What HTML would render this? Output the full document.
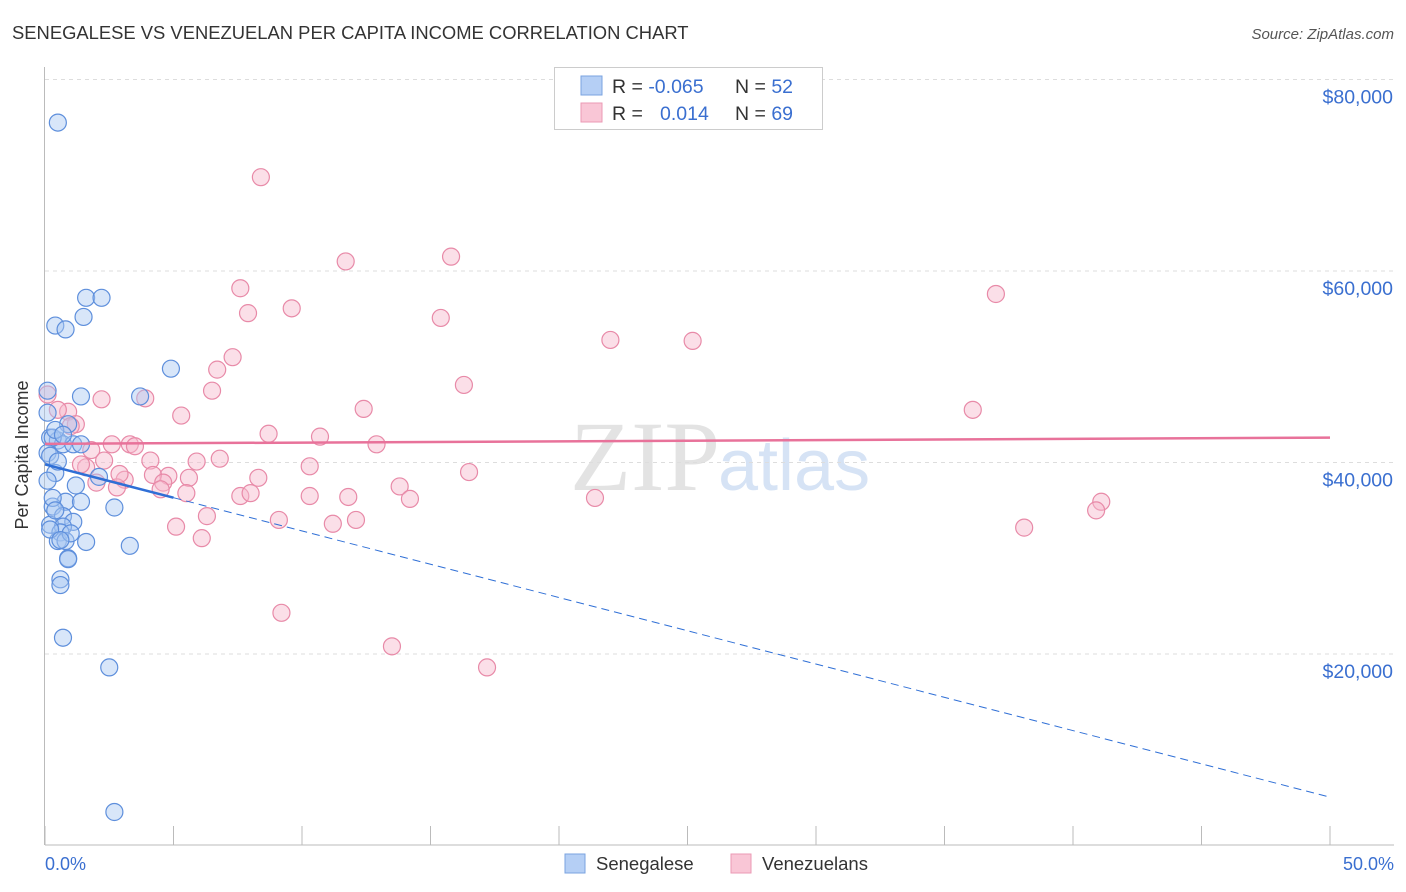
<!DOCTYPE html>
<html><head><meta charset="utf-8"><style>
body{margin:0;background:#fff;font-family:"Liberation Sans",sans-serif}
#wrap{position:relative;width:1406px;height:892px;overflow:hidden}
</style></head><body><div id="wrap">
<svg id="svg" width="1406" height="892" xmlns="http://www.w3.org/2000/svg" font-family="Liberation Sans, sans-serif">
<text x="12" y="39" font-size="18.4" fill="#333">SENEGALESE VS VENEZUELAN PER CAPITA INCOME CORRELATION CHART</text>
<text x="1394" y="39" font-size="15" fill="#555" font-style="italic" text-anchor="end">Source: ZipAtlas.com</text>
<text x="720" y="490" font-size="100" fill="#e3e3e3" font-family="Liberation Serif, serif" text-anchor="end">ZIP</text>
<text x="718" y="490" font-size="72" fill="#d6e3f5" text-anchor="start">atlas</text>
<g id="grid"></g><g id="axes"></g><g id="pts"></g><g id="trend"></g>
<text x="28" y="455" font-size="18" fill="#333" transform="rotate(-90 28 455)" text-anchor="middle">Per Capita Income</text>
<text x="45" y="870" font-size="18" fill="#3a6fd0">0.0%</text>
<text x="1394" y="870" font-size="18" fill="#3a6fd0" text-anchor="end">50.0%</text>
<g>
<rect x="554.5" y="67.5" width="268" height="62" fill="#fff" stroke="#ccc"/>
<rect x="581" y="76" width="21" height="19" fill="#b5cff5" stroke="#7aa3e0"/>
<rect x="581" y="103" width="21" height="19" fill="#f9c6d6" stroke="#eb9ab4"/>
<text x="612" y="93" font-size="19.5" fill="#333">R = <tspan fill="#3a6fd0">-0.065</tspan></text>
<text x="735" y="93" font-size="19.5" fill="#333">N = <tspan fill="#3a6fd0">52</tspan></text>
<text x="612" y="120" font-size="19.5" fill="#333">R = <tspan fill="#3a6fd0" x="660">0.014</tspan></text>
<text x="735" y="120" font-size="19.5" fill="#333">N = <tspan fill="#3a6fd0">69</tspan></text>
</g>
<g>
<rect x="565" y="854" width="20" height="19" fill="#b5cff5" stroke="#7aa3e0"/>
<text x="596" y="870" font-size="18.5" fill="#333">Senegalese</text>
<rect x="731" y="854" width="20" height="19" fill="#f9c6d6" stroke="#eb9ab4"/>
<text x="762" y="870" font-size="18.5" fill="#333">Venezuelans</text>
</g>
</svg></div>
<script>
const yTicks=[20000,40000,60000,80000];
const yTickLabels=["$20,000","$40,000","$60,000","$80,000"];
const senX=[0.5,0.4,0.8,1.6,2.2,1.5,4.9,3.7,1.4,0.1,0.1,0.9,0.2,0.5,0.7,0.3,1.1,1.4,0.1,0.4,0.1,2.1,1.2,0.8,1.4,0.3,2.7,0.7,1.1,0.2,0.7,0.6,1.6,0.5,0.8,3.3,0.9,0.6,0.6,0.7,2.5,2.7,0.4,0.7,0.2,0.5,0.3,0.2,1.0,0.6,0.4,0.9];
const senY=[75500,54300,53900,57200,57200,55200,49800,46900,46900,47500,45200,44000,42600,42300,41900,42600,41900,41900,41000,38900,38100,38500,37600,35900,35900,35400,35300,34400,33800,33500,33300,32700,31700,31800,31800,31300,30000,27800,27200,21700,18600,3500,43400,42900,40700,40100,36300,33000,32600,31900,35000,29900];
const venX=[8.4,15.8,11.7,7.6,37.0,9.6,7.9,15.4,22.0,25.2,7.3,6.7,16.3,6.5,2.2,3.9,12.4,36.1,5.3,0.9,1.2,8.7,10.7,12.9,2.6,3.3,3.5,1.8,0.1,4.1,5.9,6.8,1.6,2.3,1.4,10.3,16.5,8.3,13.8,4.8,4.2,5.6,3.1,2.0,2.8,4.6,4.5,5.5,7.6,11.8,14.2,10.3,21.4,41.1,40.9,6.3,9.1,11.2,12.1,5.1,38.1,6.1,9.2,13.5,17.2,0.5,2.9,8.0,1.0];
const venY=[69800,61500,61000,58200,57600,56100,55600,55100,52800,52700,51000,49700,48100,47500,46600,46700,45600,45500,44900,45300,44000,43000,42700,41900,41900,41900,41700,41300,47100,40200,40100,40400,39500,40200,39800,39600,39000,38400,37500,38600,38700,38400,38200,37900,37400,37900,37200,36800,36500,36400,36200,36500,36300,35900,35000,34400,34000,33600,34000,33300,33200,32100,24300,20800,18600,45500,38800,36800,43800];
const senTrend=[39800,-695]; const venTrend=[41950,13];
const X=v=>45+v*25.7, Y=v=>845.5-v*191.5/20000;
const NS="http://www.w3.org/2000/svg";
function mk(t,a,p){const e=document.createElementNS(NS,t);for(const k in a)e.setAttribute(k,a[k]);document.getElementById(p).appendChild(e);return e;}
yTicks.forEach((t,i)=>{
 const g=mk("line",{x1:45,x2:1394,y1:Y(t),y2:Y(t),stroke:"#ddd","stroke-dasharray":"4,4"},"grid");
 
 
 const l=mk("text",{x:1393,y:Y(t)+24,"font-size":19.5,fill:"#3a6fd0","text-anchor":"end"},"axes");
 l.textContent=yTickLabels[i];
 
 
});
mk("line",{x1:45,x2:1394,y1:845,y2:845,stroke:"#bbb"},"axes");
mk("line",{x1:44.5,x2:44.5,y1:67,y2:845,stroke:"#bbb"},"axes");
for(let i=0;i<=10;i++){const t=mk("line",{x1:X(i*5),x2:X(i*5),y1:826,y2:845,stroke:"#bbb"},"axes");
 
 }
function pts(xs,ys,f,s,name){xs.forEach((x,i)=>{const c=mk("circle",{cx:X(x),cy:Y(ys[i]),r:8.5,fill:f,"fill-opacity":0.45,stroke:s,"stroke-width":1.2},"pts");
 
 });}
pts(venX,venY,"#f7b8cb","#e88aa8","venezuelan-point");
pts(senX,senY,"#a9c8f2","#5e8fdc","senegalese-point");
const tv=(tr,x)=>tr[0]+tr[1]*x;
let l1=mk("line",{x1:X(0),y1:Y(tv(venTrend,0)),x2:X(50),y2:Y(tv(venTrend,50)),stroke:"#e8729a","stroke-width":2.5},"trend");


let l2=mk("line",{x1:X(0),y1:Y(tv(senTrend,0)),x2:X(5),y2:Y(tv(senTrend,5)),stroke:"#2f6fd6","stroke-width":2.5},"trend");


let l3=mk("line",{x1:X(5),y1:Y(tv(senTrend,5)),x2:X(50),y2:Y(tv(senTrend,50)),stroke:"#2f6fd6","stroke-width":1,"stroke-dasharray":"8,5"},"trend");


</script></body></html>
